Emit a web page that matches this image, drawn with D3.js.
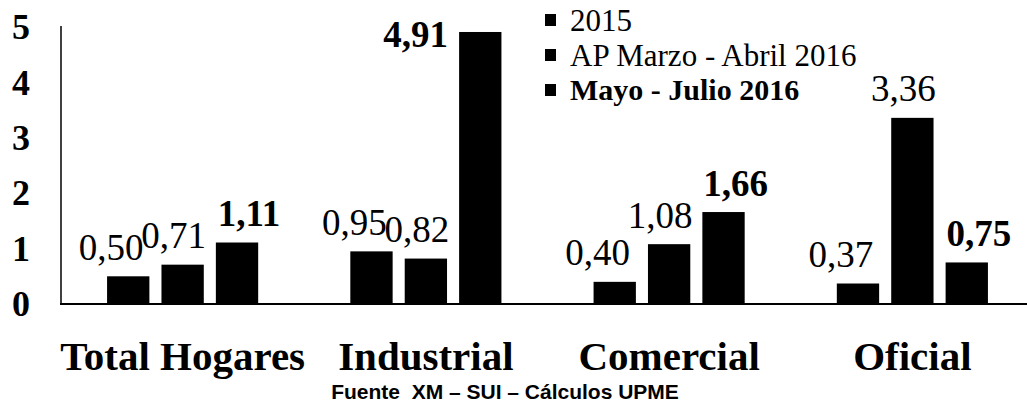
<!DOCTYPE html>
<html>
<head>
<meta charset="utf-8">
<script src="https://cdn.jsdelivr.net/npm/d3@7"></script>
<style>
  body { margin: 0; background: #fff; }
  svg { display: block; }
</style>
</head>
<body>
<div id="plot"></div>
<script>
// data
var categories = ["Total Hogares", "Industrial", "Comercial", "Oficial"];
var seriesNames = ["2015", "AP Marzo - Abril 2016", "Mayo - Julio 2016"];
var v2015 = [0.50, 0.95, 0.40, 0.37];
var vAP = [0.71, 0.82, 1.08, 3.36];
var vMayo = [1.11, 4.91, 1.66, 0.75];
var yTicks = [0, 1, 2, 3, 4, 5];
var source = "Fuente  XM \u2013 SUI \u2013 C\u00e1lculos UPME";

var W = 1027, H = 403;
var serif = "'Liberation Serif', 'Times New Roman', serif";

var svg = d3.select("#plot").append("svg")
	.attr("width", W)
	.attr("height", H);

var x0 = d3.scaleBand()
	.domain(categories)
	.range([61, 1034]);

var x1 = d3.scaleBand()
	.domain(d3.range(seriesNames.length))
	.range([0, x0.bandwidth()])
	.paddingInner(0.222)
	.paddingOuter(0.847);

var y = d3.scaleLinear()
	.domain([0, 5])
	.range([304, 27]);

var rows = [];
var allSeries = [v2015, vAP, vMayo];
categories.forEach(function(c, i) {
	allSeries.forEach(function(s, j) {
		rows.push({cat: c, s: j, v: s[i]});
	});
});

// bars
svg.append("g").selectAll("rect")
	.data(rows)
	.enter().append("rect")
	.attr("x", function(d) { return x0(d.cat) + x1(d.s); })
	.attr("y", function(d) { return y(d.v); })
	.attr("width", x1.bandwidth())
	.attr("height", function(d) { return y(0) - y(d.v); })
	.attr("fill", "#000");

// axes lines
svg.append("line")
	.attr("x1", 61).attr("x2", 61)
	.attr("y1", y(5) - 1).attr("y2", y(0))
	.attr("stroke", "#000").attr("stroke-width", 1.5);
svg.append("line")
	.attr("x1", 60).attr("x2", W)
	.attr("y1", y(0)).attr("y2", y(0))
	.attr("stroke", "#000").attr("stroke-width", 2);

// y tick labels
svg.append("g").selectAll("text")
	.data(yTicks)
	.enter().append("text")
	.attr("x", 21)
	.attr("y", function(d) { return y(d); })
	.attr("dy", ".34em")
	.attr("text-anchor", "middle")
	.style("font-family", serif)
	.style("font-weight", "bold")
	.style("font-size", "36px")
	.text(function(d) { return d; });

// value labels
var fmt = function(v) { return v.toFixed(2).replace(".", ","); };
var shift = [-17, -9, 12];
svg.append("g").selectAll("text")
	.data(rows)
	.enter().append("text")
	.each(function(d) {
		var t = d3.select(this);
		var bx = x0(d.cat) + x1(d.s);
		var top = y(d.v);
		if (top - 30 < 20) {
			// no room above, put it beside the bar
			t.attr("x", bx - 11).attr("y", top + 2).attr("text-anchor", "end");
		} else {
			t.attr("x", bx + x1.bandwidth() / 2 + shift[d.s]).attr("y", top - 29).attr("text-anchor", "middle");
		}
	})
	.attr("dy", ".34em")
	.style("font-family", serif)
	.style("font-weight", function(d) { return d.s == 2 ? "bold" : "normal"; })
	.style("font-size", "37px")
	.text(function(d) { return fmt(d.v); });

// category labels
svg.append("g").selectAll("text")
	.data(categories)
	.enter().append("text")
	.attr("x", function(d) { return x0(d) + x0.bandwidth() / 2; })
	.attr("y", 370)
	.attr("text-anchor", "middle")
	.style("font-family", serif)
	.style("font-weight", "bold")
	.style("font-size", "41px")
	.text(function(d) { return d; });

// legend
var legend = svg.append("g").selectAll("g")
	.data(seriesNames)
	.enter().append("g")
	.attr("transform", function(d, i) { return "translate(545," + (20 + i * 35) + ")"; });

legend.append("rect")
	.attr("x", 0)
	.attr("y", -6)
	.attr("width", 11)
	.attr("height", 12)
	.attr("fill", "#000");

legend.append("text")
	.attr("x", 25)
	.attr("dy", ".34em")
	.style("font-family", serif)
	.style("font-weight", function(d, i) { return i == 2 ? "bold" : "normal"; })
	.style("font-size", function(d, i) { return i == 2 ? "30px" : "31px"; })
	.text(function(d) { return d; });

// source note
svg.append("text")
	.attr("x", 505)
	.attr("y", 399)
	.attr("text-anchor", "middle")
	.style("white-space", "pre")
	.style("font-family", "'Liberation Sans', Arial, sans-serif")
	.style("font-weight", "bold")
	.style("font-size", "21px")
	.text(source);
</script>
</body>
</html>
